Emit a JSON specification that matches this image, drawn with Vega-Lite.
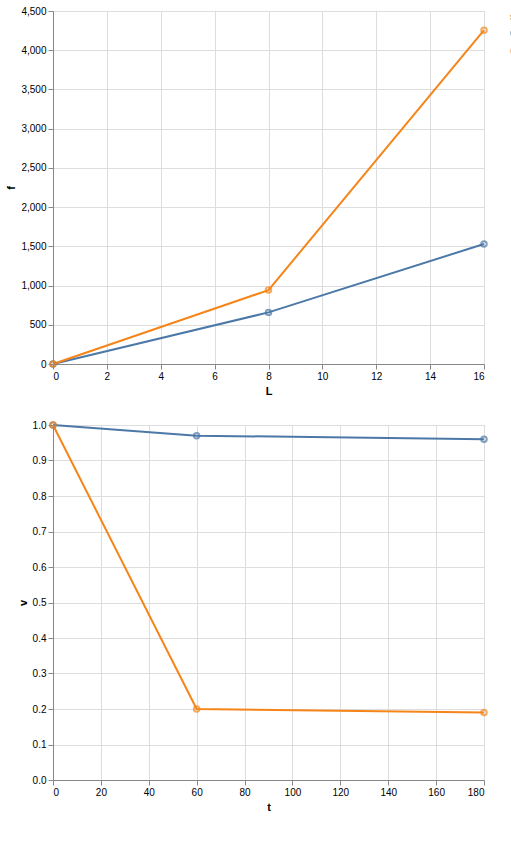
{
  "$schema": "https://vega.github.io/schema/vega-lite/v6.json",
  "vconcat": [
    {
      "width": 431,
      "height": 353,
      "data": {"values": [{"s": "a", "L": 0, "f": 0}, {"s": "a", "L": 8, "f": 658}, {"s": "a", "L": 16, "f": 1530}, {"s": "b", "L": 0, "f": 0}, {"s": "b", "L": 8, "f": 942}, {"s": "b", "L": 16, "f": 4255}]},
      "layer": [
        {"mark": "line", "encoding": {"x": {"field": "L", "type": "quantitative"}, "y": {"field": "f", "type": "quantitative"}, "color": {"field": "s", "type": "nominal"}}},
        {"mark": "point", "encoding": {"x": {"field": "L", "type": "quantitative"}, "y": {"field": "f", "type": "quantitative"}, "color": {"field": "s", "type": "nominal"}}}
      ]
    },
    {
      "width": 431,
      "height": 355,
      "data": {"values": [{"s": "a", "t": 0, "v": 1.0}, {"s": "a", "t": 60, "v": 0.97}, {"s": "a", "t": 180, "v": 0.96}, {"s": "b", "t": 0, "v": 1.0}, {"s": "b", "t": 60, "v": 0.2}, {"s": "b", "t": 180, "v": 0.19}]},
      "layer": [
        {"mark": "line", "encoding": {"x": {"field": "t", "type": "quantitative"}, "y": {"field": "v", "type": "quantitative"}, "color": {"field": "s", "type": "nominal"}}},
        {"mark": "point", "encoding": {"x": {"field": "t", "type": "quantitative"}, "y": {"field": "v", "type": "quantitative"}, "color": {"field": "s", "type": "nominal"}}}
      ]
    }
  ]
}
